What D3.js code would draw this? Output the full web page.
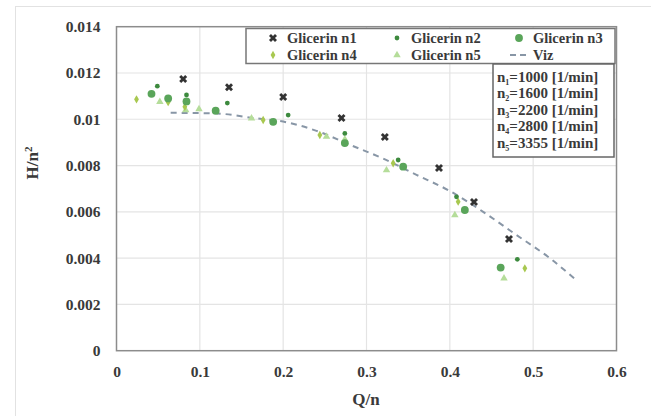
<!DOCTYPE html>
<html><head><meta charset="utf-8">
<script src="https://cdn.jsdelivr.net/npm/d3@7/dist/d3.min.js"></script>
<style>
body{margin:0;background:#fff;}
svg{display:block;}
text{font-family:"Liberation Serif","DejaVu Serif",serif;fill:#3a3a3a;}
</style></head>
<body><svg id="c" width="651" height="416"></svg>
<script>
// ---- data ----
const xTicks = [0, 0.1, 0.2, 0.3, 0.4, 0.5, 0.6];
const yTicks = [0, 0.002, 0.004, 0.006, 0.008, 0.01, 0.012, 0.014];
const yTickLabels = ["0", "0.002", "0.004", "0.006", "0.008", "0.01", "0.012", "0.014"];
const n1 = [[0.080,0.01174],[0.135,0.01138],[0.200,0.01096],[0.270,0.01005],[0.322,0.00923],[0.387,0.00789],[0.429,0.00642],[0.471,0.00483]];
const n2 = [[0.049,0.01143],[0.084,0.01105],[0.133,0.0107],[0.206,0.01018],[0.274,0.00939],[0.338,0.00824],[0.408,0.00665],[0.481,0.00395]];
const n3 = [[0.042,0.0111],[0.062,0.0109],[0.084,0.01077],[0.119,0.01037],[0.188,0.00989],[0.274,0.00897],[0.344,0.00795],[0.418,0.00608],[0.461,0.00359]];
const n4 = [[0.024,0.01086],[0.062,0.01074],[0.082,0.01054],[0.176,0.00997],[0.244,0.00932],[0.332,0.0081],[0.41,0.00644],[0.49,0.00356]];
const n5 = [[0.052,0.01075],[0.083,0.0104],[0.099,0.01044],[0.162,0.01004],[0.252,0.00925],[0.274,0.00913],[0.324,0.0078],[0.406,0.00586],[0.465,0.00313]];
const viz = [[0.065,0.01028],[0.12,0.01025],[0.165,0.01005],[0.2,0.0099],[0.24,0.0095],[0.28,0.0089],[0.32,0.0083],[0.36,0.0076],[0.40,0.0069],[0.44,0.0060],[0.48,0.0050],[0.52,0.0040],[0.55,0.0031]];
const legendLabels = ["Glicerin n1","Glicerin n2","Glicerin n3","Glicerin n4","Glicerin n5","Viz"];
const speeds = [["1","1000"],["2","1600"],["3","2200"],["4","2800"],["5","3355"]];

// ---- layout ----
const svg = d3.select("#c");
const L = 116.5, R = 616.5, T = 26.7, B = 350.7;
const x = d3.scaleLinear().domain([0,0.6]).range([L,R]);
const y = d3.scaleLinear().domain([0,0.014]).range([B,T]);

// faint outer frame
svg.append("line").attr("x1",15).attr("x2",651).attr("y1",6.5).attr("y2",6.5).attr("stroke","#e2e2e2");
svg.append("line").attr("x1",15.5).attr("x2",15.5).attr("y1",6).attr("y2",416).attr("stroke","#e2e2e2");

// grid
svg.append("g").selectAll("line").data(yTicks.slice(1,-1)).join("line")
  .attr("x1",L).attr("x2",R).attr("y1",d=>y(d)).attr("y2",d=>y(d))
  .attr("stroke","#e4e4e4").attr("stroke-width",1.2);
svg.append("g").selectAll("line").data(xTicks.slice(1,-1)).join("line")
  .attr("y1",T).attr("y2",B).attr("x1",d=>x(d)).attr("x2",d=>x(d))
  .attr("stroke","#e4e4e4").attr("stroke-width",1.2);

// axes (labels only)
const yAxis = d3.axisLeft(y).tickValues(yTicks).tickFormat((d,i)=>yTickLabels[i]).tickSize(0).tickPadding(16);
const gy = svg.append("g").attr("transform",`translate(${L},0)`).call(yAxis);
gy.select(".domain").remove();
gy.selectAll("text").attr("font-size",15.5).attr("font-weight","bold").style("font-family","Liberation Serif").attr("fill","#444");
const xAxis = d3.axisBottom(x).tickValues(xTicks).tickFormat(d3.format("")).tickSize(0).tickPadding(15);
const gx = svg.append("g").attr("transform",`translate(0,${B})`).call(xAxis);
gx.select(".domain").remove();
gx.selectAll("text").attr("font-size",15.5).attr("font-weight","bold").style("font-family","Liberation Serif").attr("fill","#444");

// plot border
svg.append("rect").attr("x",L).attr("y",T).attr("width",R-L).attr("height",B-T)
  .attr("fill","none").attr("stroke","#8c8c8c").attr("stroke-width",1.5);

// titles
svg.append("text").attr("x",366).attr("y",405).attr("text-anchor","middle")
  .attr("font-size",17).attr("font-weight","bold").attr("fill","#444").text("Q/n");
const yt = svg.append("text").attr("transform","translate(38,163) rotate(-90)").attr("text-anchor","middle")
  .attr("font-size",17).attr("font-weight","bold").attr("fill","#444");
yt.append("tspan").text("H/n");
yt.append("tspan").attr("dy",-6).attr("font-size",11).text("2");

// viz line
svg.append("path").datum(viz)
  .attr("d", d3.line().x(d=>x(d[0])).y(d=>y(d[1])).curve(d3.curveMonotoneX))
  .attr("fill","none").attr("stroke","#8896a6").attr("stroke-width",2).attr("stroke-dasharray","6,5");

// markers
const sym = {
  n2: {fill:"#3d8a3e", size:18, type:d3.symbolCircle},
  n3: {fill:"#5aa55a", size:48, type:d3.symbolCircle},
  n4: {fill:"#a8c850", size:20, type:d3.symbolDiamond},
  n5: {fill:"#b5dd9a", size:24, type:d3.symbolTriangle}
};
function pts(data, s){
  svg.append("g").selectAll("path").data(data).join("path")
    .attr("transform",d=>`translate(${x(d[0])},${y(d[1])})`)
    .attr("d", d3.symbol().type(s.type).size(s.size)).attr("fill",s.fill);
}
pts(n5, sym.n5); pts(n4, sym.n4); pts(n3, sym.n3); pts(n2, sym.n2);
svg.append("g").selectAll("path").data(n1).join("path")
  .attr("transform",d=>`translate(${x(d[0])},${y(d[1])}) rotate(45)`)
  .attr("d", d3.symbol().type(d3.symbolCross).size(40)).attr("fill","#333");

// legend
const lg = svg.append("g");
lg.append("rect").attr("x",246).attr("y",28.5).attr("width",369).attr("height",35)
  .attr("fill","#fff").attr("stroke","#777").attr("stroke-width",1.5);
const cols = [273, 397, 519];
const rows = [38, 55];
const legendSyms = [
  {k:"n1"},{k:"n2"},{k:"n3"},{k:"n4"},{k:"n5"},{k:"viz"}
];
legendSyms.forEach((s,i)=>{
  const cx = cols[i%3], cy = rows[Math.floor(i/3)];
  if (s.k==="n1") lg.append("path").attr("transform",`translate(${cx},${cy}) rotate(45)`).attr("d",d3.symbol().type(d3.symbolCross).size(40)).attr("fill","#333");
  else if (s.k==="viz") lg.append("line").attr("x1",cx-9).attr("x2",cx+9).attr("y1",cy).attr("y2",cy).attr("stroke","#8896a6").attr("stroke-width",2).attr("stroke-dasharray","6,4");
  else lg.append("path").attr("transform",`translate(${cx},${cy})`).attr("d",d3.symbol().type(sym[s.k].type).size(sym[s.k].size)).attr("fill",sym[s.k].fill);
  lg.append("text").attr("x",cx+14).attr("y",cy+4.5).attr("font-size",14.5).attr("font-weight","bold").attr("fill","#555").text(legendLabels[i]);
});

// speeds box
const sb = svg.append("g");
sb.append("rect").attr("x",493).attr("y",64).attr("width",121).attr("height",93)
  .attr("fill","#fff").attr("stroke","#666").attr("stroke-width",1.5);
speeds.forEach((s,i)=>{
  const t = sb.append("text").attr("x",497).attr("y",81.5+i*16.5).attr("font-size",15).attr("font-weight","bold").attr("fill","#555");
  t.append("tspan").text("n");
  t.append("tspan").attr("dy",3).attr("font-size",8).text(s[0]);
  t.append("tspan").attr("dy",-3).text("=" + s[1] + " [1/min]");
});
</script></body></html>
